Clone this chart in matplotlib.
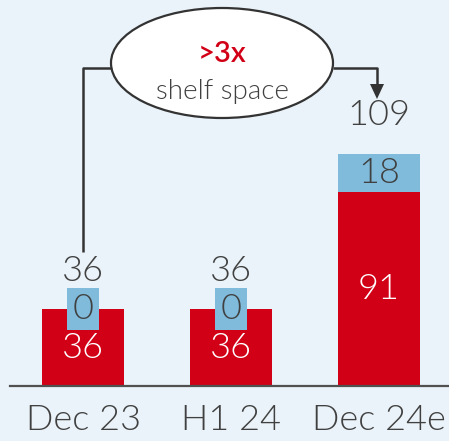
import matplotlib
matplotlib.use("Agg")
import matplotlib.pyplot as plt
from matplotlib.patches import Ellipse, Polygon
import numpy as np

plt.rcParams['font.family'] = ['Lato', 'DejaVu Sans']

periods = ['Dec 23', 'H1 24', 'Dec 24e']
red_vals = [36, 36, 91]
blue_vals = [0, 0, 18]
totals = [a + b for a, b in zip(red_vals, blue_vals)]

RED = '#d20016'
BLUE = '#80bbdb'
BG = '#eaf3f9'
TXT = '#404040'
FW = 300

W, H = 449, 441
fig = plt.figure(figsize=(W / 100, H / 100), dpi=100, facecolor=BG)
ax = fig.add_axes([0, 0, 1, 1], facecolor=BG)

x = np.arange(len(periods))
ax.bar(x, red_vals, width=0.55, color=RED, edgecolor='none', zorder=2)
ax.bar(x, blue_vals, width=0.55, bottom=red_vals, color=BLUE, edgecolor='none', zorder=2)

ax.set_xlim(-0.561, 2.473)
ax.set_ylim(-25.8, 181.2)
ax.axis('off')
ax.plot([-0.493, 2.473], [0, 0], color='#505050', lw=1.6, zorder=3, clip_on=False)

for i in x:
    ax.text(i, -16, periods[i], ha='center', va='center', fontsize=26,
            fontweight=FW, color=TXT)
    ax.text(i, red_vals[i] / 2, str(red_vals[i]), ha='center', va='center',
            fontsize=26, fontweight=FW, color='white', zorder=4)
    if blue_vals[i] == 0:
        ax.text(i, red_vals[i], str(blue_vals[i]), ha='center', va='center',
                fontsize=26, fontweight=FW, color=TXT, zorder=4,
                bbox=dict(boxstyle='square,pad=0.14', fc=BLUE, ec='none'))
    else:
        ax.text(i, red_vals[i] + blue_vals[i] / 2, str(blue_vals[i]),
                ha='center', va='center', fontsize=26, fontweight=FW,
                color=TXT, zorder=4)
    ax.text(i, totals[i] + 18, str(totals[i]), ha='center', va='center',
            fontsize=26, fontweight=FW, color=TXT, zorder=4)

# callout, placed in pixel fractions
def fx(px):
    return px / W

def fy(py):
    return 1 - py / H

t = ax.transAxes
lc = '#333333'
ax.plot([fx(83), fx(83), fx(111)], [fy(252), fy(68), fy(68)], color=lc, lw=1.8,
        transform=t, zorder=5, solid_capstyle='butt')
ax.plot([fx(333), fx(377), fx(377)], [fy(68), fy(68), fy(86)], color=lc, lw=1.8,
        transform=t, zorder=5, solid_capstyle='butt')
ax.add_patch(Polygon([[fx(370), fy(84)], [fx(384), fy(84)], [fx(377), fy(99)]],
                     closed=True, fc=lc, ec='none', transform=t, zorder=5))
ax.add_patch(Ellipse((fx(222), fy(63)), 222 / W, 110 / H, fc='white', ec=lc,
                     lw=1.6, transform=t, zorder=6))
ax.text(fx(222), fy(54), '>3x', ha='center', va='center', fontsize=21,
        fontweight='semibold', color=RED, transform=t, zorder=7)
ax.text(fx(222), fy(92), 'shelf space', ha='center', va='center', fontsize=20,
        fontweight=FW, color=TXT, transform=t, zorder=7)

fig.savefig('out.png', dpi=100, facecolor=BG)
